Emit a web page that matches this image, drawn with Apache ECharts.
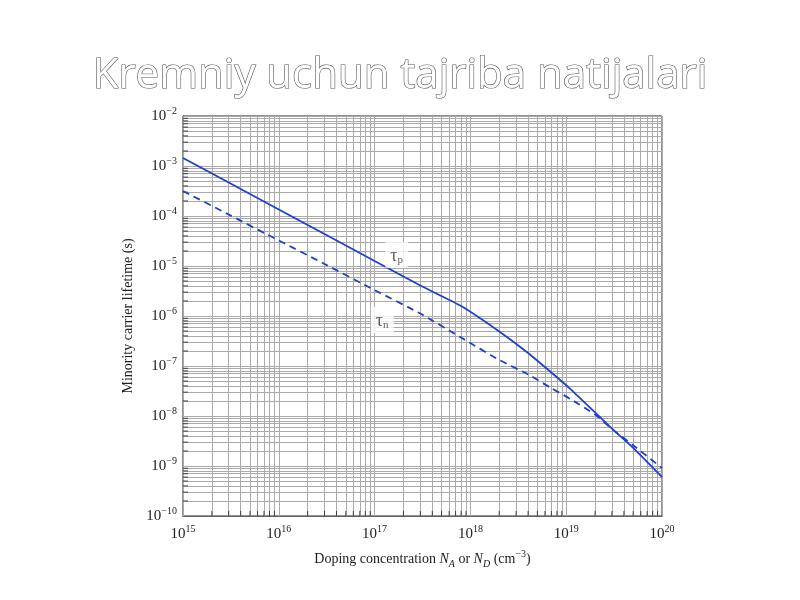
<!DOCTYPE html>
<html><head><meta charset="utf-8">
<script src="https://cdn.jsdelivr.net/npm/echarts@6/dist/echarts.min.js"></script>
<style>html,body{margin:0;padding:0;background:#fff}#c{width:800px;height:600px}</style>
</head><body><div id="c"></div>
<script>
const titleText = 'Kremniy uchun tajriba natijalari';
const xAxisName = 'Doping concentration {i|N}{sub|A} or {i|N}{sub|D} (cm{sup|−3})';
const yAxisName = 'Minority carrier lifetime (s)';
const dopingN = [1e15, 3e15, 1e16, 3e16, 1e17, 3e17, 8e17, 2e18, 4e18, 7e18, 1.1e19, 2e19, 3e19, 5e19, 1e20];
const tauP = [1.45e-3, 4.67e-4, 1.35e-4, 4.36e-5, 1.26e-5, 4.06e-6, 1.58e-6, 4.9e-7, 1.82e-7, 7.4e-8, 3.5e-8, 1.18e-8, 5.6e-9, 2.3e-9, 6.0e-10];
const tauN = [3.16e-4, 1.07e-4, 3.24e-5, 1.1e-5, 3.3e-6, 1.12e-6, 3.7e-7, 1.32e-7, 6.8e-8, 3.6e-8, 2.2e-8, 1.07e-8, 5.5e-9, 2.6e-9, 9.1e-10];
const curveLabels = [
  {name: 'p', N: 1.7e17, tau: 1.66e-5},
  {name: 'n', N: 1.2e17, tau: 8.3e-7}
];
const xDecades = [15, 16, 17, 18, 19, 20];
const yDecades = [-10, -9, -8, -7, -6, -5, -4, -3, -2];

function logGrid(decs) {
  const out = [];
  for (let i = 0; i < decs.length - 1; i++) {
    for (let k = 1; k <= 9; k++) out.push(k * Math.pow(10, decs[i]));
  }
  out.push(Math.pow(10, decs[decs.length - 1]));
  return out;
}
function minorOnly(decs) {
  const out = [];
  for (let i = 0; i < decs.length - 1; i++) {
    for (let k = 2; k <= 9; k++) out.push(k * Math.pow(10, decs[i]));
  }
  return out;
}
const xMin = Math.pow(10, xDecades[0]), xMax = Math.pow(10, xDecades[xDecades.length - 1]);
const yMin = Math.pow(10, yDecades[0]), yMax = Math.pow(10, yDecades[yDecades.length - 1]);
const gridX = logGrid(xDecades), gridY = logGrid(yDecades);
const serif = '"Liberation Serif", "DejaVu Serif", serif';
function expLabel(v) {
  const e = Math.round(Math.log10(v));
  return '10{s|' + (e < 0 ? '−' + (-e) : e) + '}';
}
const gridLineData = gridX.map(v => ({coords: [[v, yMin], [v, yMax]]}))
  .concat(gridY.map(v => ({coords: [[xMin, v], [xMax, v]]})));

const chart = echarts.init(document.getElementById('c'));
chart.setOption({
  animation: false,
  backgroundColor: '#fff',
  title: {
    text: titleText, left: 'center', top: 50,
    textStyle: {fontFamily: '"Open Sans", sans-serif', fontSize: 42, fontWeight: 'normal',
      color: '#fff', textBorderColor: '#555', textBorderWidth: 1.2}
  },
  grid: {left: 183, right: 138, top: 116, bottom: 84, show: true, borderColor: '#222', borderWidth: 1},
  xAxis: {
    type: 'log', logBase: 10, min: xMin, max: xMax, interval: 1, splitNumber: 5,
    name: xAxisName, nameLocation: 'middle', nameGap: 31,
    nameTextStyle: {fontFamily: serif, fontSize: 14, color: '#222', lineHeight: 20,
      rich: {i: {fontStyle: 'italic', fontSize: 14, fontFamily: serif, color: '#222'},
             sub: {fontSize: 10, fontStyle: 'italic', fontFamily: serif, verticalAlign: 'bottom', lineHeight: 14, color: '#222'},
             sup: {fontSize: 10, fontFamily: serif, verticalAlign: 'top', lineHeight: 10, color: '#222'}}},
    axisLine: {lineStyle: {color: '#222'}},
    axisTick: {inside: true, length: 8, lineStyle: {color: '#222'}},
    splitLine: {show: false},
    axisLabel: {formatter: expLabel, fontFamily: serif, fontSize: 15, color: '#222', margin: 8, lineHeight: 20,
      rich: {s: {fontSize: 10, fontFamily: serif, verticalAlign: 'top', lineHeight: 12, color: '#222'}}}
  },
  yAxis: {
    type: 'log', logBase: 10, min: yMin, max: yMax, interval: 1, splitNumber: 8,
    name: yAxisName, nameLocation: 'middle', nameGap: 48, nameRotate: 90,
    nameTextStyle: {fontFamily: serif, fontSize: 14, color: '#222'},
    axisLine: {lineStyle: {color: '#222'}},
    axisTick: {inside: true, length: 8, lineStyle: {color: '#222'}},
    splitLine: {show: false},
    axisLabel: {formatter: expLabel, fontFamily: serif, fontSize: 15, color: '#222', margin: 6, lineHeight: 20,
      rich: {s: {fontSize: 10, fontFamily: serif, verticalAlign: 'top', lineHeight: 12, color: '#222'}}}
  },
  series: [
    {
      type: 'lines', coordinateSystem: 'cartesian2d', silent: true, z: 1,
      lineStyle: {color: '#aaa', width: 1, opacity: 1, type: 'solid'},
      data: gridLineData
    },
    {
      type: 'scatter', silent: true, z: 3, clip: false,
      symbol: 'rect', symbolSize: [1, 5], symbolOffset: [0, -2.5],
      itemStyle: {color: '#222'},
      data: minorOnly(xDecades).map(v => [v, yMin])
    },
    {
      type: 'scatter', silent: true, z: 3, clip: false,
      symbol: 'rect', symbolSize: [5, 1], symbolOffset: [2.5, 0],
      itemStyle: {color: '#222'},
      data: minorOnly(yDecades).map(v => [xMin, v])
    },
    {
      name: 'tau_p', type: 'line', z: 4, smooth: 0.2, showSymbol: false,
      lineStyle: {color: '#1f3fd1', width: 1.8, type: 'solid'},
      data: dopingN.map((n, i) => [n, tauP[i]])
    },
    {
      name: 'tau_n', type: 'line', z: 4, smooth: 0.2, showSymbol: false,
      lineStyle: {color: '#1f3fd1', width: 1.8, type: [7, 5]},
      data: dopingN.map((n, i) => [n, tauN[i]])
    },
    {
      type: 'scatter', z: 6, silent: true, symbolSize: 0,
      data: curveLabels.map(c => ({value: [c.N, c.tau], name: c.name})),
      label: {
        show: true, position: 'inside',
        formatter: p => 'τ{sub|' + p.name + '}',
        backgroundColor: '#fff', padding: [4, 5, 2, 5],
        fontFamily: serif, fontSize: 18, color: '#333', lineHeight: 20,
        rich: {sub: {fontSize: 11, fontFamily: serif, verticalAlign: 'bottom', lineHeight: 14, color: '#333'}}
      }
    }
  ]
});
</script>
</body></html>
